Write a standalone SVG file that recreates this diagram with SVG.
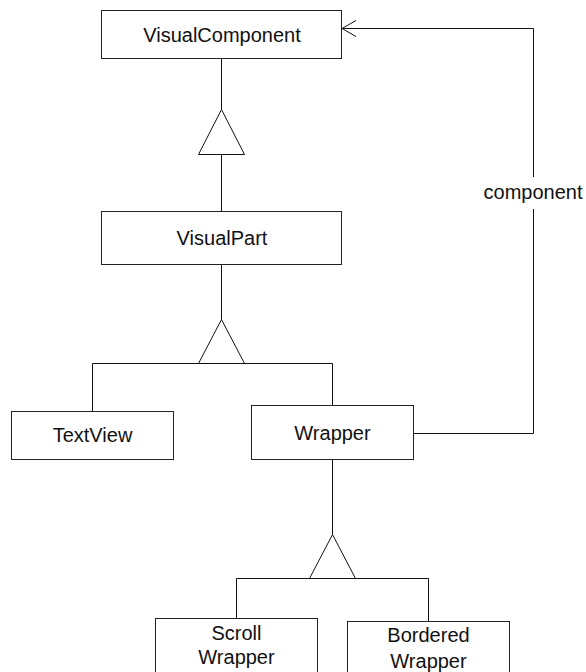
<svg xmlns="http://www.w3.org/2000/svg" width="586" height="672" viewBox="0 0 586 672">
  <style>
    .box { fill: #ffffff; stroke: #222222; stroke-width: 1; }
    .line { fill: none; stroke: #111111; stroke-width: 1; }
    .gen { fill: #ffffff; stroke: #111111; stroke-width: 1; stroke-linejoin: miter; }
    .label { font-family: "Liberation Sans", Arial, sans-serif; font-size: 20px; fill: #111111; text-anchor: middle; }
  </style>
  <defs>
    <!-- open navigability arrowhead: tip at the end of the line -->
    <marker id="open-arrow" viewBox="0 0 16 18" refX="15" refY="9" markerWidth="16" markerHeight="18" markerUnits="userSpaceOnUse" orient="auto">
      <path d="M1,1 L15,9 L1,17" fill="none" stroke="#111111" stroke-width="1"/>
    </marker>
  </defs>
  <rect width="586" height="672" fill="#ffffff"/>

  <g id="visual-component">
    <rect class="box" x="101.5" y="10.5" width="240" height="48"/>
    <text class="label" x="222" y="41.5">VisualComponent</text>
  </g>

  <g id="visual-part">
    <rect class="box" x="101.5" y="211.5" width="240" height="53"/>
    <text class="label" x="222" y="245">VisualPart</text>
  </g>

  <g id="text-view">
    <rect class="box" x="11.5" y="411.5" width="162" height="48"/>
    <text class="label" x="92.5" y="442">TextView</text>
  </g>

  <g id="wrapper">
    <rect class="box" x="251.5" y="405.5" width="162" height="54"/>
    <text class="label" x="332.5" y="440">Wrapper</text>
  </g>

  <g id="scroll-wrapper">
    <rect class="box" x="155.5" y="618.5" width="162" height="70"/>
    <text class="label" x="236.5" y="639.5">Scroll</text>
    <text class="label" x="236.5" y="664">Wrapper</text>
  </g>

  <g id="bordered-wrapper">
    <rect class="box" x="347.5" y="621.5" width="162" height="70"/>
    <text class="label" x="428.5" y="642">Bordered</text>
    <text class="label" x="428.5" y="667.5">Wrapper</text>
  </g>

  <!-- connectors -->
  <g id="connectors">
    <!-- VisualPart generalises to VisualComponent -->
    <path class="line" d="M221.5,58.5 V109.5 M221.5,154.5 V211.5"/>
    <polygon class="gen" points="221.5,109.5 198.5,154.5 244.5,154.5"/>
    <!-- TextView and Wrapper generalise to VisualPart -->
    <path class="line" d="M221.5,264.5 V319.5 M92.5,411.5 V363.5 H332.5 V405.5"/>
    <polygon class="gen" points="221.5,319.5 198.5,363.5 244.5,363.5"/>
    <!-- ScrollWrapper and BorderedWrapper generalise to Wrapper -->
    <path class="line" d="M332.5,459.5 V534.5 M236.5,618.5 V578.5 H428.5 V621.5"/>
    <polygon class="gen" points="332.5,534.5 309.5,578.5 355.5,578.5"/>
    <!-- component association -->
    <path class="line" d="M413.5,433.5 H533.5 V209"/>
    <path class="line" d="M533.5,177 V28.5 H342" marker-end="url(#open-arrow)"/>
    <text class="label" x="533" y="199">component</text>
  </g>
</svg>
